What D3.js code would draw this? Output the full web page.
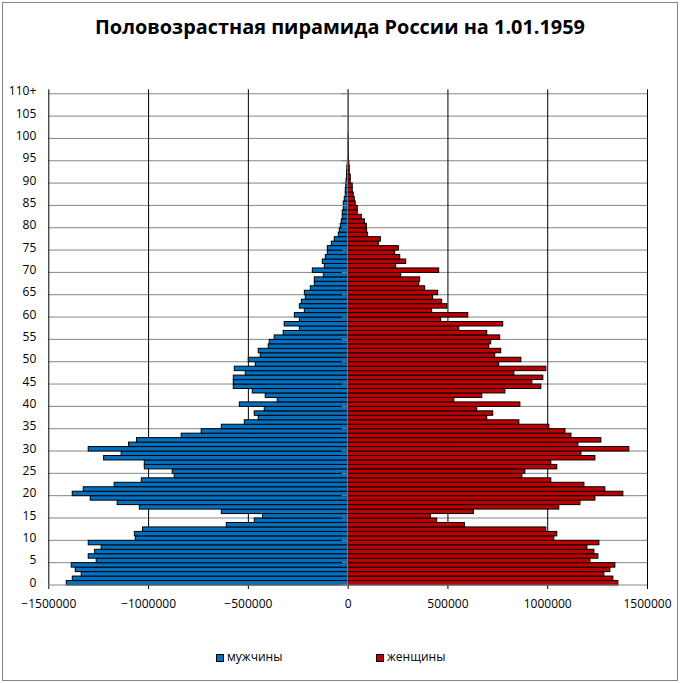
<!DOCTYPE html>
<html>
<head>
<meta charset="utf-8">
<script src="https://cdnjs.cloudflare.com/ajax/libs/d3/7.8.5/d3.min.js"></script>
<style>
  body { margin: 0; background: #fff; }
  text { font-family: "Open Sans", "DejaVu Sans", sans-serif; fill: #000; }
</style>
</head>
<body>
<svg id="chart" width="680" height="683"></svg>
<script>
// Age groups 0..110 (110 is "110+")
var ages = d3.range(0, 111);
var ageLabels = ages.map(function(a) { return a === 110 ? "110+" : String(a); });

// Males (negative, left side), ages 0..110
var men = [
  -1410000, -1380000, -1335000, -1365000, -1385000, -1260000, -1300000, -1268000, -1235000, -1300000,
  -1064000, -1069000, -1028000,  -608000,  -468000,  -426000,  -633000, -1044000, -1155000, -1290000,
  -1380000, -1325000, -1170000, -1034000,  -869000,  -879000, -1019000, -1019000, -1223000, -1135000,
  -1300000, -1098000, -1058000,  -834000,  -734000,  -633000,  -518000,  -448000,  -468000,  -418000,
   -543000,  -353000,  -413000,  -478000,  -573000,  -573000,  -573000,  -513000,  -568000,  -463000,
   -498000,  -438000,  -448000,  -398000,  -393000,  -368000,  -323000,  -242000,  -318000,  -242000,
   -267000,  -217000,  -242000,  -232000,  -212000,  -217000,  -187000,  -167000,  -167000,  -122000,
   -177000,  -117000,  -127000,  -112000,  -102000,  -102000,   -82000,   -67000,   -47000,   -42000,
    -37000,   -32000,   -27000,   -27000,   -22000,   -22000,   -17000,   -12000,   -12000,   -10000,
     -8000,    -6000,    -5000,    -4000,    -2000,    -1000,     -700,     -500,     -300,     -200,
      -100,        0,        0,        0,        0,        0,        0,        0,        0,        0,
         0
];

// Females (right side), ages 0..110
var women = [
  1354000, 1329000, 1284000, 1314000, 1339000, 1214000, 1254000, 1234000, 1199000, 1259000,
  1033000, 1048000,  993000,  585000,  446000,  415000,  630000, 1058000, 1164000, 1239000,
  1379000, 1289000, 1184000, 1018000,  873000,  888000, 1048000, 1018000, 1239000, 1169000,
  1409000, 1154000, 1269000, 1119000, 1089000, 1008000,  858000,  697000,  727000,  647000,
   863000,  532000,  672000,  788000,  968000,  923000,  978000,  833000,  993000,  757000,
   868000,  737000,  767000,  707000,  717000,  762000,  697000,  557000,  777000,  466000,
   602000,  421000,  497000,  471000,  426000,  451000,  386000,  356000,  361000,  266000,
   456000,  241000,  291000,  261000,  236000,  254000,  154000,  164000,  100000,   95000,
    94000,   84000,   69000,   48000,   48000,   38000,   33000,   28000,   23000,   23000,
    13000,   13000,    8000,    8000,    6000,    3000,    2000,    1500,    1000,     500,
      300,       0,       0,       0,       0,       0,       0,       0,       0,       0,
        0
];

var xTicks = [-1500000, -1000000, -500000, 0, 500000, 1000000, 1500000];
var seriesNames = ["мужчины", "женщины"];
var title = "Половозрастная пирамида России на 1.01.1959";

var colors = ["#0070C0", "#C00000"];
var gridGray = "#868686";

var svg = d3.select("#chart");

// outer chart border
svg.append("rect")
    .attr("x", 2.5).attr("y", 2.5)
    .attr("width", 675).attr("height", 678)
    .attr("fill", "none").attr("stroke", gridGray);

svg.append("text")
    .attr("x", 340).attr("y", 34)
    .attr("text-anchor", "middle")
    .attr("font-size", "20px").attr("font-weight", "bold")
    .attr("textLength", 490).attr("lengthAdjust", "spacingAndGlyphs")
    .text(title);

var plot = { left: 48.3, right: 647, top: 89.3, bottom: 585 };

var x = d3.scaleLinear()
    .domain([-1500000, 1500000])
    .range([plot.left, plot.right]);

var y = d3.scaleBand()
    .domain(ages)
    .range([plot.bottom, plot.top])
    .padding(0);

var labelAges = ages.filter(function(a) { return a % 5 === 0; });

// horizontal gridlines on the category boundaries
svg.append("g").selectAll("line")
    .data(labelAges.filter(function(a) { return a > 0; }))
  .enter().append("line")
    .attr("x1", plot.left).attr("x2", plot.right)
    .attr("y1", function(a) { return y(a) + y.bandwidth(); })
    .attr("y2", function(a) { return y(a) + y.bandwidth(); })
    .attr("stroke", gridGray).attr("stroke-width", 1);

// vertical gridlines (black), with short ticks below the axis
var xGrid = svg.append("g")
    .attr("transform", "translate(0," + (plot.bottom + 4) + ")")
    .call(d3.axisBottom(x).tickValues(xTicks).tickSize(-(plot.bottom + 4 - plot.top)).tickFormat(""));
xGrid.select(".domain").remove();
xGrid.selectAll("line").attr("stroke", "#000");

// bars
var bars = svg.append("g");
[men, women].forEach(function(series, s) {
    bars.append("g").selectAll("rect")
	.data(ages.filter(function(a) { return series[a] !== 0; }))
      .enter().append("rect")
	.attr("x", function(a) { return x(Math.min(0, series[a])); })
	.attr("width", function(a) { return Math.abs(x(series[a]) - x(0)); })
	.attr("y", function(a) { return y(a); })
	.attr("height", y.bandwidth())
	.attr("fill", colors[s])
	.attr("stroke", "#000").attr("stroke-width", 1);
});

// value axis line at the bottom
svg.append("line")
    .attr("x1", plot.left).attr("x2", plot.right)
    .attr("y1", plot.bottom).attr("y2", plot.bottom)
    .attr("stroke", gridGray);

// category axis at zero, with ticks to the left
svg.append("line")
    .attr("x1", x(0)).attr("x2", x(0))
    .attr("y1", plot.top).attr("y2", plot.bottom)
    .attr("stroke", gridGray);
svg.append("g").selectAll("line")
    .data(labelAges)
  .enter().append("line")
    .attr("x1", x(0) - 6).attr("x2", x(0))
    .attr("y1", function(a) { return y(a) + y.bandwidth(); })
    .attr("y2", function(a) { return y(a) + y.bandwidth(); })
    .attr("stroke", gridGray);

// x tick labels
var xAxis = svg.append("g")
    .attr("transform", "translate(0," + plot.bottom + ")")
    .call(d3.axisBottom(x).tickValues(xTicks).tickSize(0).tickPadding(14).tickFormat(d3.format("d")));
xAxis.select(".domain").remove();
xAxis.selectAll("text").attr("font-size", "12px").attr("font-family", null);

// y tick labels, every 5 years
var yAxis = svg.append("g")
    .attr("transform", "translate(" + plot.left + ",0)")
    .call(d3.axisLeft(y).tickValues(labelAges).tickSize(0).tickPadding(12)
	  .tickFormat(function(a) { return ageLabels[a]; }));
yAxis.select(".domain").remove();
yAxis.selectAll("text").attr("font-size", "12px").attr("font-family", null);

// legend
var legendX = [216, 376];
var legend = svg.append("g").selectAll("g")
    .data(seriesNames)
  .enter().append("g")
    .attr("transform", function(d, i) { return "translate(" + legendX[i] + ",654)"; });
legend.append("rect")
    .attr("x", 0.5).attr("y", 0.5)
    .attr("width", 7).attr("height", 7)
    .attr("fill", function(d, i) { return colors[i]; })
    .attr("stroke", "#000");
legend.append("text")
    .attr("x", 11).attr("y", 6.5)
    .attr("font-size", "12px")
    .text(function(d) { return d; });
</script>
</body>
</html>
